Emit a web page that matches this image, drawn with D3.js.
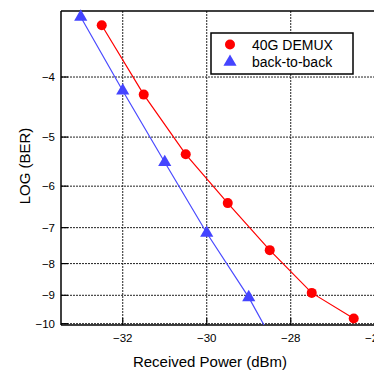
<!DOCTYPE html>
<html>
<head>
<meta charset="utf-8">
<script src="https://cdn.jsdelivr.net/npm/d3@7"></script>
<style>
body { margin: 0; background: #fff; }
text { font-family: "Liberation Sans", Arial, sans-serif; }
</style>
</head>
<body>
<div id="chart-area"></div>
<script>
let width = 374,
height = 372;

// data
let powerDemux = [-32.5, -31.5, -30.5, -29.5, -28.5, -27.5, -26.5];
let logBerDemux = [-3.30, -4.27, -5.33, -6.39, -7.61, -8.92, -9.81];
let powerB2B = [-33, -32, -31, -30, -29];
let logBerB2B = [-3.20, -4.21, -5.49, -7.14, -9.07];
// fitted line for back-to-back runs on past the last point
let b2bFitEnd = [-28.55, -10.3];
let xTicks = [-32, -30, -28, -26];
let yTicks = [-4, -5, -6, -7, -8, -9, -10];

let plot = {left: 61, top: 11, bottom: 325, right: 420};

let svg = d3.select("#chart-area").append("svg")
.attr("width", width)
.attr("height", height);

let x = d3.scaleLinear()
	.domain([-33.47, -25.5])
	.range([plot.left, plot.left + 42 * 7.97]);

// BER axis: log of -log(BER)
let y = d3.scaleLog()
	.domain([3.13, 10.05])
	.range([plot.top, plot.bottom]);

let yPos = d => y(-d);

svg.append("clipPath").attr("id", "clip")
	.append("rect")
	.attr("x", plot.left).attr("y", plot.top)
	.attr("width", plot.right - plot.left).attr("height", plot.bottom - plot.top);

// grid
svg.selectAll(".hgrid")
	.data(yTicks)
	.enter().append("line")
	.attr("x1", plot.left).attr("x2", plot.right)
	.attr("y1", d => yPos(d)).attr("y2", d => yPos(d))
	.style("stroke", "#222")
	.style("stroke-width", 1)
	.style("stroke-dasharray", "2,1");

svg.selectAll(".vgrid")
	.data(xTicks)
	.enter().append("line")
	.attr("x1", d => x(d)).attr("x2", d => x(d))
	.attr("y1", plot.top).attr("y2", plot.bottom)
	.style("stroke", "#222")
	.style("stroke-width", 1)
	.style("stroke-dasharray", "2,1");

// frame
svg.append("line")
	.attr("x1", plot.left).attr("x2", plot.right)
	.attr("y1", plot.top).attr("y2", plot.top)
	.style("stroke", "#000").style("stroke-width", 1.5);
svg.append("line")
	.attr("x1", plot.left).attr("x2", plot.right)
	.attr("y1", plot.bottom).attr("y2", plot.bottom)
	.style("stroke", "#000").style("stroke-width", 1.5);
svg.append("line")
	.attr("x1", plot.left).attr("x2", plot.left)
	.attr("y1", plot.top).attr("y2", plot.bottom)
	.style("stroke", "#000").style("stroke-width", 1.5);

// ticks
svg.selectAll(".ytick")
	.data(yTicks)
	.enter().append("line")
	.attr("x1", plot.left).attr("x2", plot.left + 7)
	.attr("y1", d => yPos(d)).attr("y2", d => yPos(d))
	.style("stroke", "#000").style("stroke-width", 1.2);

svg.selectAll(".xtick")
	.data(xTicks)
	.enter().append("line")
	.attr("x1", d => x(d)).attr("x2", d => x(d))
	.attr("y1", plot.bottom).attr("y2", plot.bottom - 7)
	.style("stroke", "#000").style("stroke-width", 1.2);

svg.selectAll(".ylab")
	.data(yTicks)
	.enter().append("text")
	.attr("x", plot.left - 6)
	.attr("y", d => yPos(d) + 4)
	.attr("text-anchor", "end")
	.style("font-size", "11.5px")
	.text(d => "\u2212" + Math.abs(d));

svg.selectAll(".xlab")
	.data(xTicks)
	.enter().append("text")
	.attr("x", d => x(d))
	.attr("y", 342)
	.attr("text-anchor", "middle")
	.style("font-size", "11.5px")
	.text(d => "\u2212" + Math.abs(d));

// axis titles
svg.append("text")
	.attr("x", 210).attr("y", 367)
	.attr("text-anchor", "middle")
	.style("font-size", "15px")
	.text("Received Power (dBm)");

svg.append("text")
	.attr("transform", "translate(30,166) rotate(-90)")
	.attr("text-anchor", "middle")
	.style("font-size", "15px")
	.text("LOG (BER)");

// lines
let line = d3.line()
	.x(d => x(d[0]))
	.y(d => yPos(d[1]));

let demux = powerDemux.map((p, i) => [p, logBerDemux[i]]);
let b2b = powerB2B.map((p, i) => [p, logBerB2B[i]]);

svg.append("path")
	.datum(b2b.concat([b2bFitEnd]))
	.attr("clip-path", "url(#clip)")
	.attr("d", line)
	.style("fill", "none")
	.style("stroke", "#4a4aff")
	.style("stroke-width", 1.2);

svg.append("path")
	.datum(demux)
	.attr("clip-path", "url(#clip)")
	.attr("d", line)
	.style("fill", "none")
	.style("stroke", "#ff0000")
	.style("stroke-width", 1.2);

let tri = d3.symbol().type(d3.symbolTriangle).size(75);

svg.selectAll(".tri")
	.data(b2b)
	.enter().append("path")
	.attr("d", tri)
	.attr("transform", d => "translate(" + x(d[0]) + "," + yPos(d[1]) + ")")
	.style("fill", "#4444ff");

svg.selectAll(".dot")
	.data(demux)
	.enter().append("circle")
	.attr("cx", d => x(d[0]))
	.attr("cy", d => yPos(d[1]))
	.attr("r", 5)
	.style("fill", "#ff0000");

// legend
let legend = svg.append("g");
legend.append("rect")
	.attr("x", 211).attr("y", 33)
	.attr("width", 142).attr("height", 41)
	.style("fill", "#fff")
	.style("stroke", "#000")
	.style("stroke-width", 1.5);
legend.append("circle")
	.attr("cx", 230).attr("cy", 44.5).attr("r", 5)
	.style("fill", "#ff0000");
legend.append("path")
	.attr("d", tri)
	.attr("transform", "translate(230,62)")
	.style("fill", "#4444ff");
legend.append("text")
	.attr("x", 252).attr("y", 49.5)
	.style("font-size", "14px")
	.text("40G DEMUX");
legend.append("text")
	.attr("x", 252).attr("y", 67)
	.style("font-size", "14px")
	.text("back-to-back");
</script>
</body>
</html>
